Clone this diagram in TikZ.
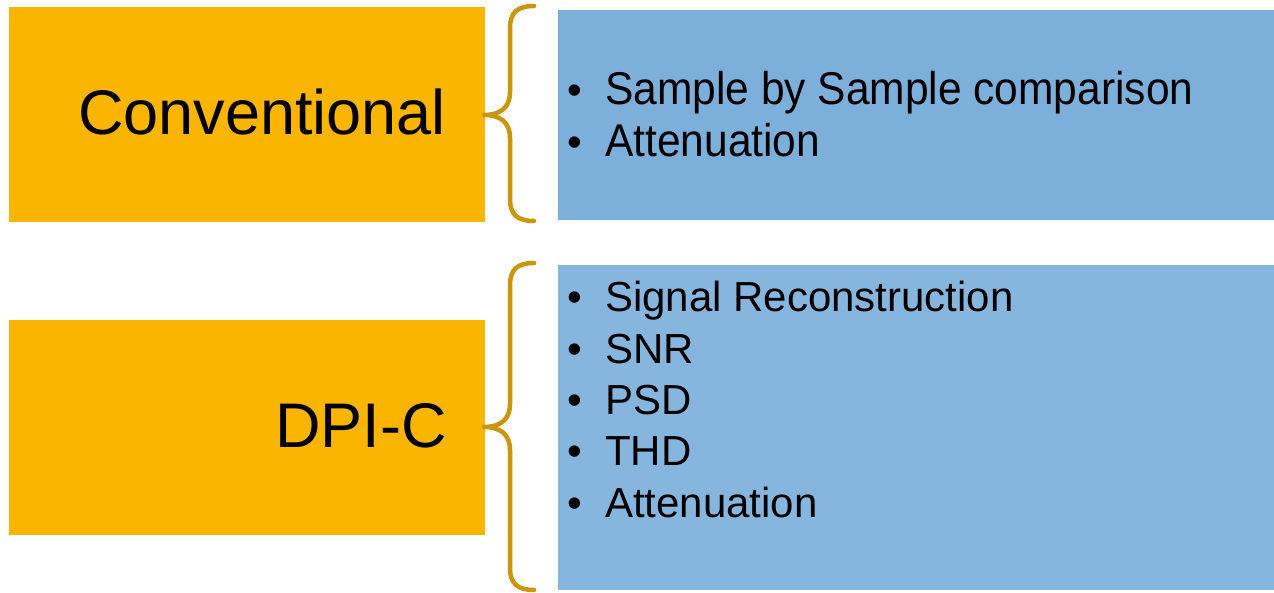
\documentclass[tikz,border=0pt]{standalone}
\usepackage{fontspec}
\setmainfont{Liberation Sans}
\definecolor{boxorange}{RGB}{250,181,0}
\definecolor{boxblueA}{RGB}{124,175,218}
\definecolor{boxblueB}{RGB}{134,182,222}
\definecolor{bracegold}{RGB}{204,150,10}
\begin{document}
\begin{tikzpicture}[x=1pt,y=-1pt,
  obox/.style={fill=boxorange,draw=none,inner sep=0pt,anchor=north west},
  bbox/.style={draw=none,inner sep=0pt,anchor=north west},
  biglabel/.style={inner sep=0pt,anchor=base east,font=\fontsize{63}{63}\selectfont},
  bul/.style={inner sep=0pt,anchor=base,font=\fontsize{42}{51}\selectfont},
  item/.style={inner sep=0pt,anchor=base west,font=\fontsize{42}{51}\selectfont},
  itemA/.style={inner sep=0pt,anchor=base west,font=\fontsize{42.5}{51}\selectfont,yscale=1.08},
  bracepath/.style={draw=bracegold,line width=4.5pt,line cap=round,line join=round}]
\useasboundingbox (0,0) rectangle (1274,593);
\fill[white] (0,0) rectangle (1274,593);
% boxes
\node[obox,minimum width=476pt,minimum height=215pt] (conv) at (9,7) {};
\node[obox,minimum width=476pt,minimum height=215pt] (dpic) at (9,320) {};
\node[bbox,fill=boxblueA,minimum width=716pt,minimum height=210pt] (listA) at (558,10) {};
\node[bbox,fill=boxblueB,minimum width=716pt,minimum height=325pt] (listB) at (558,265) {};
% labels
\node[biglabel] (convtxt) at (446,135) {Conventional};
\node[biglabel] (dpictxt) at (447,447) {DPI-C};
% list A
\node[bul] (ba1) at (575,105) {•};
\node[itemA] (ia1) at (605,105) {Sample by Sample comparison};
\node[bul] (ba2) at (575,157) {•};
\node[itemA] (ia2) at (605,157) {Attenuation};
% list B
\node[bul] (bb1) at (575,312) {•};
\node[item] (ib1) at (605,312) {Signal Reconstruction};
\node[bul] (bb2) at (575,363) {•};
\node[item] (ib2) at (605,363) {SNR};
\node[bul] (bb3) at (575,414) {•};
\node[item] (ib3) at (605,414) {PSD};
\node[bul] (bb4) at (575,465) {•};
\node[item] (ib4) at (605,465) {THD};
\node[bul] (bb5) at (575,517) {•};
\node[item] (ib5) at (605,517) {Attenuation};
% braces
\coordinate (tA) at (534,6);
\coordinate (tipA) at (484,115);
\coordinate (eA) at (534,221);
\draw[bracepath] (tA) .. controls (518,6) and (510,12) .. (510,28)
  -- (510,92) .. controls (510,108) and (500,115) .. (tipA)
  .. controls (500,115) and (510,122) .. (510,138)
  -- (510,199) .. controls (510,215) and (518,221) .. (eA);
\coordinate (tB) at (534,263);
\coordinate (tipB) at (484,427);
\coordinate (eB) at (534,590);
\draw[bracepath] (tB) .. controls (518,263) and (510,269) .. (510,285)
  -- (510,404) .. controls (510,420) and (500,427) .. (tipB)
  .. controls (500,427) and (510,434) .. (510,450)
  -- (510,568) .. controls (510,584) and (518,590) .. (eB);
\end{tikzpicture}
\end{document}
